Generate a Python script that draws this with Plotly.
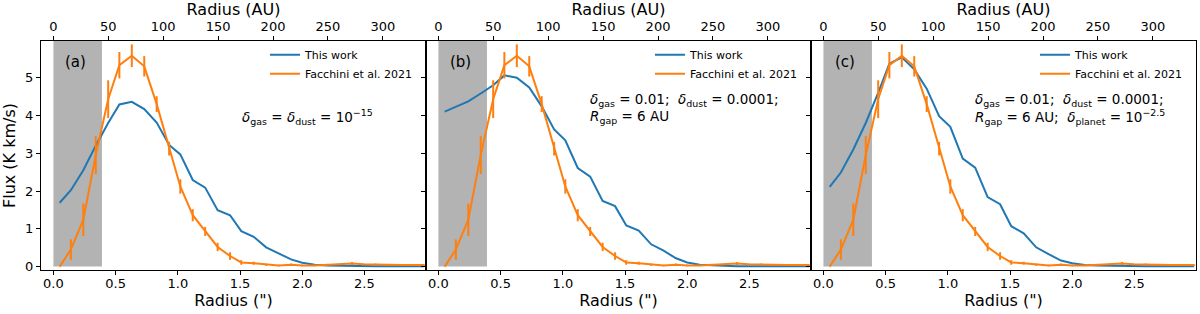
import plotly.graph_objects as go

# ---------------- data ----------------
radius_arcsec = [0.05, 0.14, 0.24, 0.34, 0.44, 0.53, 0.63, 0.73, 0.83, 0.93,
                 1.02, 1.12, 1.22, 1.32, 1.42, 1.51, 1.61, 1.71, 1.81, 1.91,
                 2.00, 2.10, 2.20, 2.30, 2.40, 2.49, 2.59, 2.69, 2.79, 2.89, 2.98]

flux_facchini = [0.00, 0.45, 1.24, 2.95, 4.43, 5.33, 5.58, 5.30, 4.30, 3.12,
                 2.12, 1.36, 0.93, 0.52, 0.28, 0.11, 0.09, 0.05, 0.03, 0.05,
                 0.03, 0.03, 0.05, 0.06, 0.08, 0.06, 0.06, 0.05, 0.04, 0.04, 0.04]

flux_err_facchini = [0.00, 0.27, 0.43, 0.50, 0.50, 0.35, 0.30, 0.27, 0.21, 0.18,
                     0.19, 0.16, 0.12, 0.11, 0.10, 0.06, 0.04, 0.03, 0.02, 0.03,
                     0.02, 0.02, 0.02, 0.02, 0.04, 0.02, 0.02, 0.02, 0.02, 0.02, 0.02]

flux_model_a = [1.69, 2.02, 2.55, 3.20, 3.80, 4.29, 4.36, 4.17, 3.81, 3.22,
                2.97, 2.29, 2.09, 1.49, 1.36, 0.94, 0.79, 0.51, 0.35, 0.19,
                0.10, 0.05, 0.03, 0.02, 0.01, 0.01, 0.01, 0.01, 0.01, 0.01, 0.01]

flux_model_b = [4.10, 4.22, 4.37, 4.58, 4.80, 5.06, 5.00, 4.74, 4.24, 3.63,
                3.34, 2.61, 2.38, 1.74, 1.60, 1.09, 0.95, 0.59, 0.42, 0.22,
                0.11, 0.05, 0.03, 0.02, 0.01, 0.01, 0.01, 0.01, 0.01, 0.01, 0.01]

flux_model_c = [2.11, 2.49, 3.10, 3.80, 4.60, 5.37, 5.54, 5.22, 4.71, 3.98,
                3.70, 2.86, 2.62, 1.84, 1.65, 1.07, 0.88, 0.51, 0.33, 0.16,
                0.09, 0.04, 0.03, 0.02, 0.01, 0.01, 0.01, 0.01, 0.01, 0.01, 0.01]

panel_labels = ["(a)", "(b)", "(c)"]
legend_names = ["This work", "Facchini et al. 2021"]

x_tick_vals = [0.0, 0.5, 1.0, 1.5, 2.0, 2.5]
x_tick_text = ["0.0", "0.5", "1.0", "1.5", "2.0", "2.5"]
au_tick_vals = [0, 50, 100, 150, 200, 250, 300]
y_tick_vals = [0, 1, 2, 3, 4, 5]

AU_PER_ARCSEC = 113.3
beam_edge = 0.39

x_range = [-0.1, 2.995]
y_range = [-0.09, 5.97]

BLUE = "#1f77b4"
ORANGE = "#ff7f0e"
GRAY = "#b3b3b3"
FONT = "DejaVu Sans"

models = [flux_model_a, flux_model_b, flux_model_c]

fig = go.Figure()

for i in range(3):
    n = "" if i == 0 else str(i + 1)
    xa = "x" + n
    ya = "y" + n
    top = "x" + str(i + 4)
    leg = "legend" + n
    fig.add_trace(go.Scatter(
        x=radius_arcsec, y=models[i], mode="lines",
        line=dict(color=BLUE, width=2), name=legend_names[0],
        xaxis=xa, yaxis=ya, legend=leg, hoverinfo="skip"))
    fig.add_trace(go.Scatter(
        x=radius_arcsec, y=flux_facchini, mode="lines",
        line=dict(color=ORANGE, width=2), name=legend_names[1],
        error_y=dict(type="data", array=flux_err_facchini, visible=True,
                     color=ORANGE, thickness=2, width=0),
        xaxis=xa, yaxis=ya, legend=leg, hoverinfo="skip"))
    # invisible trace carrying the AU scale for the top axis
    fig.add_trace(go.Scatter(
        x=[r * AU_PER_ARCSEC for r in radius_arcsec], y=flux_facchini,
        mode="lines", line=dict(width=0), opacity=0, showlegend=False,
        xaxis=top, yaxis=ya, hoverinfo="skip"))
    fig.add_shape(type="rect", xref=xa, yref=ya, x0=0, x1=beam_edge,
                  y0=0, y1=y_range[1], fillcolor=GRAY, line=dict(width=0),
                  layer="below")

axis_common = dict(showgrid=False, zeroline=False, showline=True,
                   linecolor="black", linewidth=1, ticks="outside",
                   ticklen=4, tickwidth=1, tickcolor="black",
                   tickfont=dict(family=FONT, size=13, color="black"),
                   automargin=False)

layout = dict(
    width=1200, height=314,
    margin=dict(l=41, r=4, t=41, b=44, autoexpand=False),
    paper_bgcolor="white", plot_bgcolor="white",
    font=dict(family=FONT, color="black"),
)

domains = [[0, 1 / 3], [1 / 3, 2 / 3], [2 / 3, 1]]
for i in range(3):
    n = "" if i == 0 else str(i + 1)
    layout["xaxis" + n] = dict(
        axis_common, domain=domains[i], range=x_range, anchor="y" + n,
        mirror=True, tickvals=x_tick_vals, ticktext=x_tick_text,
        ticklabelstandoff=-3,
        title=dict(text='Radius (")', font=dict(family=FONT, size=16), standoff=4))
    layout["yaxis" + n] = dict(
        axis_common, domain=[0, 1], range=y_range, anchor="x" + n,
        mirror=True, tickvals=y_tick_vals, showticklabels=(i == 0),
        title=dict(text="Flux (K km/s)" if i == 0 else "",
                   font=dict(family=FONT, size=16), standoff=6))
    layout["xaxis" + str(i + 4)] = dict(
        axis_common, overlaying="x" + n, side="top", anchor="y" + n,
        range=[v * AU_PER_ARCSEC for v in x_range], tickvals=au_tick_vals,
        showline=False,
        title=dict(text="Radius (AU)", font=dict(family=FONT, size=16), standoff=0))
    leg_x = [0.3264, 0.6597, 0.9931][i]
    layout["legend" + n] = dict(
        x=leg_x, y=1.003, xanchor="right", yanchor="top",
        bgcolor="rgba(0,0,0,0)", font=dict(family=FONT, size=11),
        itemwidth=30, tracegroupgap=0)

annotations = []
for i in range(3):
    n = "" if i == 0 else str(i + 1)
    annotations.append(dict(
        xref="x" + n, yref="y" + n, x=0.176, y=5.41, text=panel_labels[i],
        showarrow=False, xanchor="center", yanchor="middle",
        font=dict(family=FONT, size=15)))

eq_font = dict(family=FONT, size=13.5)
annotations.append(dict(
    xref="x", yref="y", x=1.5, y=3.96, showarrow=False,
    xanchor="left", yanchor="middle", font=eq_font,
    text="<i>δ</i><sub>gas</sub> = <i>δ</i><sub>dust</sub> = 10<sup>−15</sup>"))
for n in ["2", "3"]:
    annotations.append(dict(
        xref="x" + n, yref="y" + n, x=1.2, y=4.42, showarrow=False,
        xanchor="left", yanchor="middle", font=eq_font,
        text="<i>δ</i><sub>gas</sub> = 0.01;\u00a0\u00a0<i>δ</i><sub>dust</sub> = 0.0001;"))
annotations.append(dict(
    xref="x2", yref="y2", x=1.2, y=3.97, showarrow=False,
    xanchor="left", yanchor="middle", font=eq_font,
    text="<i>R</i><sub>gap</sub> = 6 AU"))
annotations.append(dict(
    xref="x3", yref="y3", x=1.2, y=3.97, showarrow=False,
    xanchor="left", yanchor="middle", font=eq_font,
    text="<i>R</i><sub>gap</sub> = 6 AU;\u00a0\u00a0<i>δ</i><sub>planet</sub> = 10<sup>−2.5</sup>"))

layout["annotations"] = annotations
fig.update_layout(**layout)

fig.write_html("out.html", config={"displayModeBar": False},
               post_script="document.body.style.margin='0';")
